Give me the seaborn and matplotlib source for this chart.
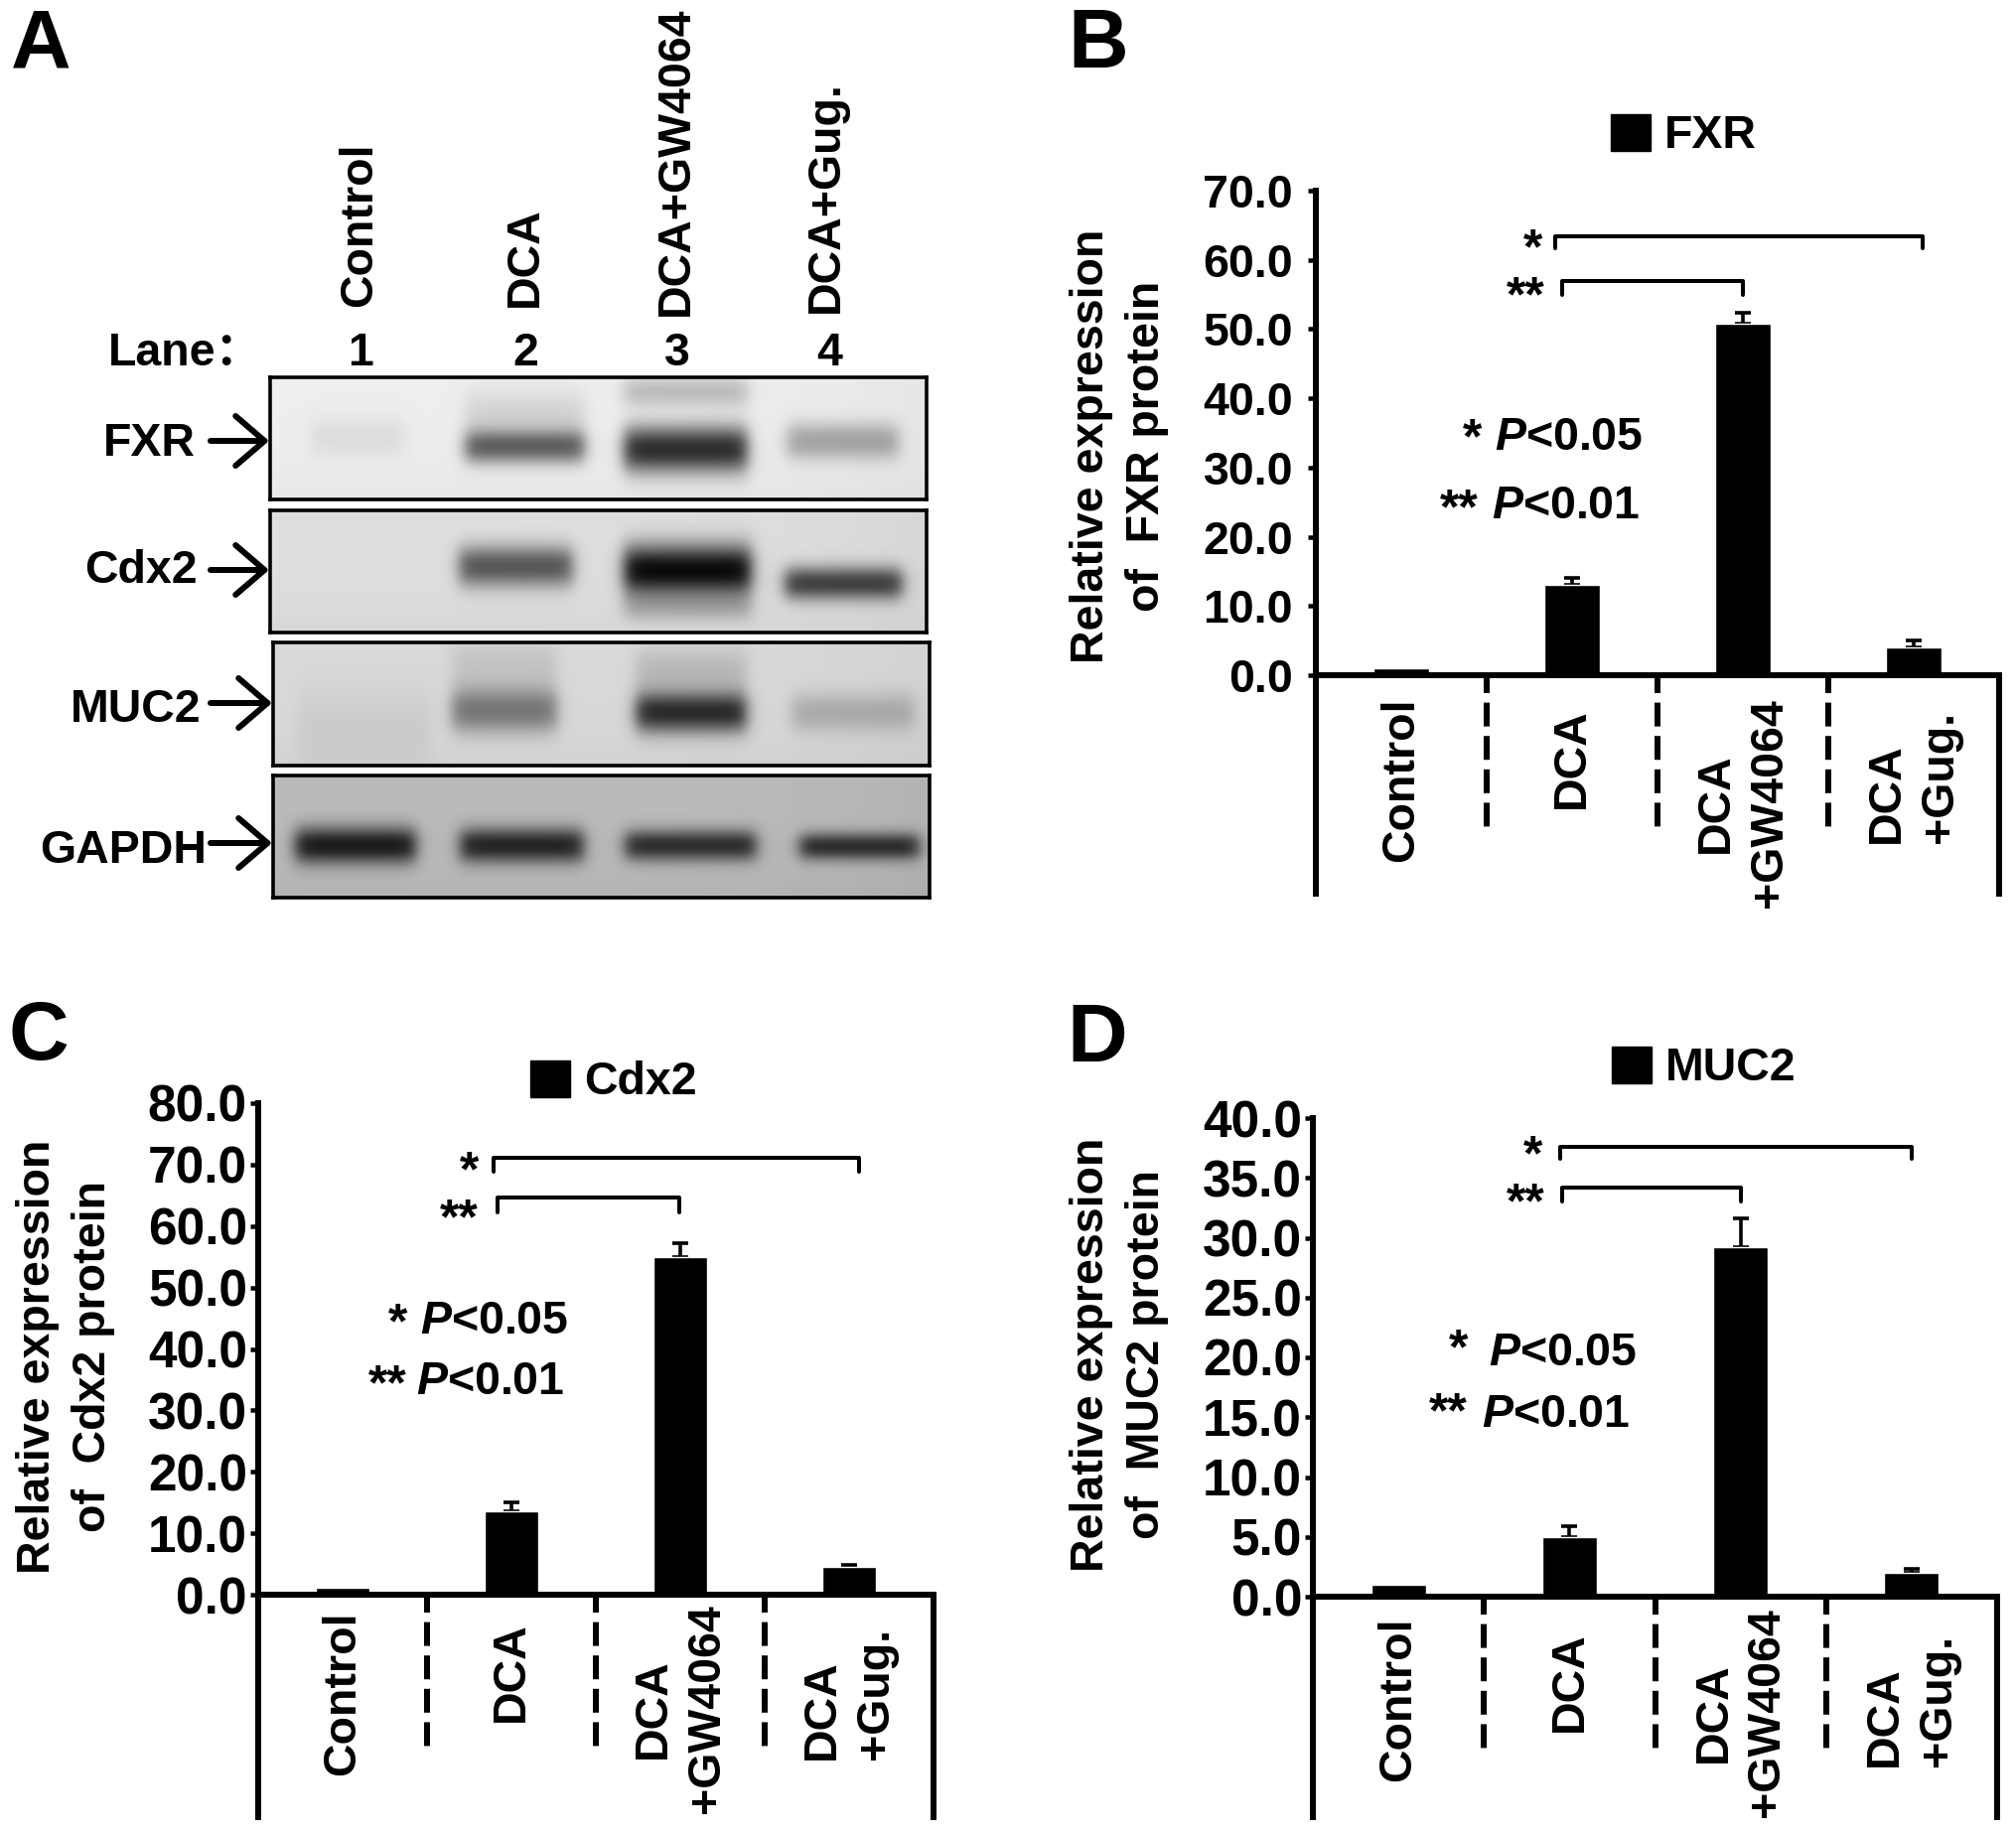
import numpy as np
import pandas as pd
import matplotlib
matplotlib.use("Agg")
import matplotlib.pyplot as plt
from matplotlib.patches import Patch
import seaborn as sns

# ---------- data ----------
categories = ["Control", "DCA", "DCA\n+GW4064", "DCA\n+Gug."]
fxr_values = [1.0, 13.0, 50.8, 4.0]
fxr_err = [0.0, 1.1, 1.5, 1.0]
cdx2_values = [1.2, 13.5, 55.0, 4.5]
cdx2_err = [0.0, 1.5, 2.2, 0.3]
muc2_values = [1.0, 5.0, 29.2, 2.0]
muc2_err = [0.0, 0.9, 2.4, 0.3]
fxr_ticks = [0, 10, 20, 30, 40, 50, 60, 70]
cdx2_ticks = [0, 10, 20, 30, 40, 50, 60, 70, 80]
muc2_ticks = [0, 5, 10, 15, 20, 25, 30, 35, 40]
blot_lanes = ["Control", "DCA", "DCA+GW4064", "DCA+Gug."]
lane_numbers = ["1", "2", "3", "4"]
# band darkness per lane, read from the blots
fxr_band = [0.07, 0.55, 0.80, 0.30]
cdx2_band = [0.00, 0.60, 0.95, 0.70]
muc2_band = [0.06, 0.45, 0.80, 0.20]
gapdh_band = [0.85, 0.80, 0.75, 0.75]

# ---------- layout helpers ----------
W, H = 2031, 1847
sns.set_theme(style="white")
plt.rcParams.update({
    "font.family": ["Liberation Sans", "Noto Sans CJK SC"],
    "font.weight": "bold",
    "axes.labelweight": "bold",
    "mathtext.fontset": "custom",
    "mathtext.rm": "Liberation Sans:bold",
    "mathtext.bfit": "Liberation Sans:italic:bold",
    "text.color": "black",
    "axes.labelcolor": "black",
    "xtick.color": "black",
    "ytick.color": "black",
})
fig = plt.figure(figsize=(W / 100, H / 100), dpi=100, facecolor="white")
PT = 0.72  # points per pixel at dpi=100
FS = 46.5 * PT
STAR = 50 * PT


def rect(l, t, r, b):
    return [l / W, 1 - b / H, (r - l) / W, (b - t) / H]


def T(x, y, s, **kw):
    kw.setdefault("fontsize", FS)
    kw.setdefault("ha", "center")
    kw.setdefault("va", "center")
    return fig.text(x / W, 1 - y / H, s, **kw)


# ---------- panel letters ----------
for s, x, y in [("A", 11, 69), ("B", 1075, 68), ("C", 8, 1067), ("D", 1074, 1069)]:
    T(x, y, s, fontsize=84 * PT, ha="left", va="baseline")


# ---------- blots ----------
def blot(box, bg, bands, hazes, darkness):
    l, t, r, b = box
    w, h = r - l, b - t
    yy, xx = np.mgrid[0:h, 0:w]
    img = np.full((h, w), bg, dtype=float)
    img = img - 0.03 * (yy / h) ** 4 - 0.03 * (xx / w) ** 6
    ink = np.zeros((h, w))

    def add(x0, x1, yc, hh, d):
        sx = 0.5 * (np.tanh((xx - x0) / 9) - np.tanh((xx - x1) / 9))
        sy = np.exp(-np.abs((yy - yc) / hh) ** 2.2)
        return d * sx * sy

    for (x0, x1, yc, hh), d in zip(bands, darkness):
        ink += add(x0, x1, yc, hh, d)
    for x0, x1, yc, hh, d in hazes:
        ink += add(x0, x1, yc, hh, d)
    img = img * (1 - np.clip(ink, 0, 0.97))
    ax = fig.add_axes(rect(l, t, r, b))
    sns.heatmap(img, cmap="gray", vmin=0, vmax=1, cbar=False, xticklabels=False,
                yticklabels=False, ax=ax, rasterized=True)
    for sp in ax.spines.values():
        sp.set_visible(True)
        sp.set_linewidth(3.6 * PT)
        sp.set_color("black")


blot((272, 380, 933, 503), 0.93,
     [(40, 135, 60, 20), (196, 316, 70, 17), (356, 480, 72, 24), (520, 632, 64, 19)],
     [(196, 316, 42, 28, 0.12), (356, 480, 14, 16, 0.2)], fxr_band)
blot((272, 514, 933, 637), 0.87,
     [(40, 135, 60, 15), (190, 304, 56, 21), (356, 484, 60, 26), (518, 636, 73, 17)],
     [(356, 484, 98, 14, 0.18)], cdx2_band)
blot((275, 647, 936, 771), 0.85,
     [(25, 158, 86, 42), (180, 285, 68, 23), (365, 476, 70, 21), (522, 645, 70, 20)],
     [(180, 285, 24, 26, 0.10), (365, 476, 28, 22, 0.15)], muc2_band)
blot((275, 781, 936, 904), 0.73,
     [(22, 143, 70, 19), (188, 312, 70, 18), (354, 486, 70, 16), (530, 650, 71, 14)],
     [], gapdh_band)

for s, x, y in [("FXR", 150, 447), ("Cdx2", 142, 575), ("MUC2", 137, 715), ("GAPDH", 124, 857)]:
    T(x, y, s)
for y, x0, x1 in [(444, 212, 271), (574, 212, 271), (708, 212, 274), (849, 212, 274)]:
    fig.add_artist(matplotlib.patches.FancyArrowPatch(
        (x0 / W, 1 - y / H), (x1 / W, 1 - y / H), transform=fig.transFigure,
        arrowstyle="->,head_length=0.7,head_width=0.6", mutation_scale=30,
        lw=6 * PT, color="black", shrinkA=0, shrinkB=0))

for s, x, y in zip(blot_lanes, [362, 529, 681, 832], [309, 309, 318, 315]):
    T(x, y, s, rotation=90, va="bottom")
T(109, 356, "Lane：", ha="left")
for s, x in zip(lane_numbers, [363, 529, 682, 835]):
    T(x, 356, s)


# ---------- bar panels ----------
def bars(box, bottom_px, values, err, ticks, ymax, tick_fs, tick_pad, pads, sep_end,
         legend, legend_pos, ylab, ylab_pos, br_long, br_short):
    l, t, r, b = box
    ax = fig.add_axes(rect(l, t, r, b))
    ax.patch.set_alpha(0)
    df = pd.DataFrame({"group": categories, "value": values})
    sns.barplot(data=df, x="group", y="value", color="black", saturation=1,
                width=0.32, errorbar=None, ax=ax, zorder=2)
    ax.errorbar(range(1, 4), values[1:], yerr=[np.zeros(3), err[1:]], fmt="none", ecolor="black",
                elinewidth=3.6 * PT, capsize=5.5, capthick=3.6 * PT, zorder=1, clip_on=False)
    ax.set_xlim(-0.5, 3.5)
    ax.set_ylim(0, ymax)
    ax.set_yticks(ticks)
    ax.set_yticklabels([f"{v:.1f}" for v in ticks], fontsize=tick_fs)
    ax.tick_params(axis="y", length=8 * PT, width=4.5 * PT, pad=tick_pad * PT, left=True)
    ax.tick_params(axis="x", length=0)
    ax.set_xlabel("")
    ax.set_xticks(range(4))
    ax.set_xticklabels(categories, rotation=90, fontsize=FS, ha="center", va="top",
                       multialignment="center", linespacing=1.28)
    for tick, pad in zip(ax.xaxis.get_major_ticks(), pads):
        tick.set_pad(pad * PT)
    ax.get_xticklabels()[3].set_multialignment("left")
    ax.set_ylabel(ylab, fontsize=FS, ha="center", va="center", linespacing=1.38)
    ax.yaxis.set_label_coords(ylab_pos[0] / W, 1 - ylab_pos[1] / H, transform=fig.transFigure)
    for side in ("top", "right"):
        ax.spines[side].set_visible(False)
    for side in ("left", "bottom"):
        ax.spines[side].set_linewidth(6 * PT)
        ax.spines[side].set_color("black")
    per_px = ymax / (b - t)
    low = -(bottom_px - b) * per_px
    ax.plot([-0.5, -0.5], [0, low], color="black", lw=6 * PT, clip_on=False, solid_capstyle="butt")
    ax.plot([3.5, 3.5], [0, low], color="black", lw=6 * PT, clip_on=False, solid_capstyle="butt")
    dash_low = -(sep_end - b) * per_px
    for xs in (0.5, 1.5, 2.5):
        ax.plot([xs, xs], [0, dash_low], color="black", lw=6 * PT, clip_on=False,
                ls=(1.0, (4.0, 1.6)), dash_capstyle="butt")
    for (x0, x1, top, foot) in (br_long, br_short):
        ax.plot([x0, x0, x1, x1], [foot, top, top, foot], color="black", lw=4 * PT,
                solid_joinstyle="round", clip_on=False)
    ax.legend(handles=[Patch(facecolor="black", edgecolor="black", label=legend)],
              loc="center left", bbox_to_anchor=(legend_pos[0] / W, 1 - legend_pos[1] / H),
              bbox_transform=fig.transFigure, frameon=False, fontsize=FS, borderpad=0,
              borderaxespad=0, handlelength=0.85, handleheight=0.85, handletextpad=0.31)
    return ax


TF2 = 37
bars((1325, 192, 2013, 680), 903, fxr_values, fxr_err, fxr_ticks, 70, FS, 15,
     [22, 33, 23, 36], 835, "FXR", (1622, 137),
     "Relative expression\nof  FXR protein", (1127, 449),
     (0.90, 3.05, 63.4, 61.7), (0.94, 2.0, 56.9, 54.9))
bars((260, 1111, 940, 1606), 1833, cdx2_values, cdx2_err, cdx2_ticks, 80, TF2, 3,
     [16, 27, 9, 33], 1763, "Cdx2", (534, 1090),
     "Relative expression\nof  Cdx2 protein", (66, 1366),
     (0.894, 3.06, 71.1, 68.8), (0.918, 1.996, 64.6, 62.3))
bars((1322, 1126, 2011, 1608), 1833, muc2_values, muc2_err, muc2_ticks, 40, TF2, 3,
     [21, 35, 11, 38], 1769, "MUC2", (1623, 1076),
     "Relative expression\nof  MUC2 protein", (1127, 1364),
     (0.946, 3.0, 37.6, 36.6), (0.955, 2.0, 34.2, 33.0))

# significance stars and P notes
for s, x, y in [("*", 1544, 252), ("**", 1536, 300), ("*", 473, 1181), ("**", 462, 1229),
                ("*", 1544, 1165), ("**", 1536, 1213),
                ("*", 1483, 443), ("**", 1469, 514), ("*", 401, 1334), ("**", 390, 1396),
                ("*", 1469, 1360), ("**", 1458, 1424)]:
    T(x, y, s, fontsize=STAR)
P05 = r"$\mathbfit{P}$<0.05"
P01 = r"$\mathbfit{P}$<0.01"
for s, x, y in [(P05, 1654, 441), (P01, 1651, 510),
                (P05, 572, 1331), (P01, 568, 1392),
                (P05, 1648, 1363), (P01, 1641, 1425)]:
    T(x, y, s, ha="right")

fig.savefig("out.png", dpi=100, facecolor="white")
